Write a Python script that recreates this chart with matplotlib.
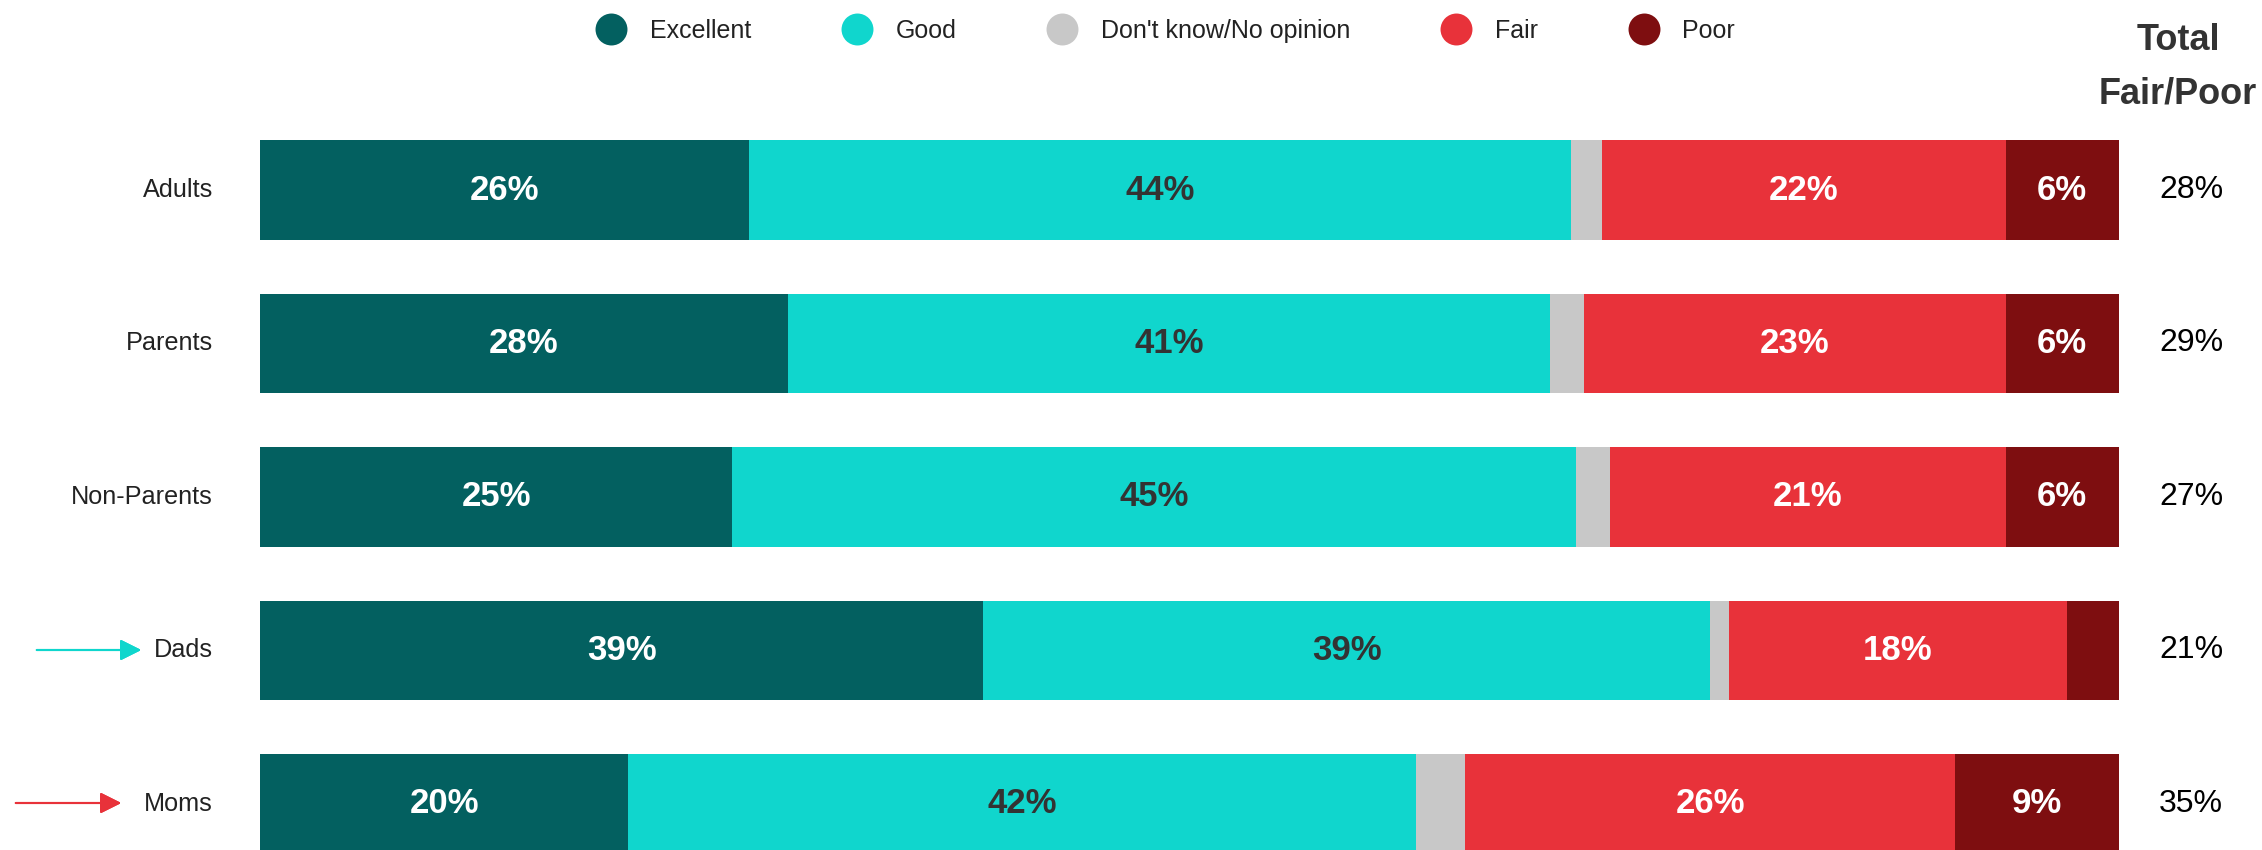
import matplotlib.pyplot as plt
from matplotlib.lines import Line2D

groups = ["Adults", "Parents", "Non-Parents", "Dads", "Moms"]
excellent = [26.3, 28.4, 25.4, 38.9, 19.8]
good = [44.2, 41.0, 45.4, 39.1, 42.4]
dont_know = [1.7, 1.8, 1.8, 1.0, 2.6]
fair = [21.7, 22.7, 21.3, 18.2, 26.4]
poor = [6.1, 6.1, 6.1, 2.8, 8.8]
total_fair_poor = [28, 29, 27, 21, 35]

series = [
    ("Excellent", excellent, "#036060", "white"),
    ("Good", good, "#10D6CD", "#333333"),
    ("Don't know/No opinion", dont_know, "#C8C8C8", None),
    ("Fair", fair, "#E8323A", "white"),
    ("Poor", poor, "#7E0E10", "white"),
]

font = ["Liberation Sans", "DejaVu Sans"]

W, H = 2262, 850
fig = plt.figure(figsize=(W / 100, H / 100), dpi=100)
ax = fig.add_axes([260 / W, 0, (2119 - 260) / W, 1])

y = list(range(len(groups)))
left = [0.0] * len(groups)
for name, vals, color, tcolor in series:
    ax.barh(y, vals, left=left, height=0.651, color=color, label=name)
    if tcolor is not None:
        for i, v in enumerate(vals):
            if v >= 5:
                ax.text(left[i] + v / 2, i, f"{round(v)}%", ha="center", va="center",
                        color=tcolor, fontsize=25, fontweight="bold", family=font)
    left = [l + v for l, v in zip(left, vals)]

ax.set_xlim(0, 100)
ax.set_ylim(4.300, -1.238)
ax.axis("off")

# row labels, right edge ~47px left of the bars
for i, g in enumerate(groups):
    ax.text(-47 / 1859 * 100, i, g, ha="right", va="center", fontsize=18.2,
            color="#222222", family=font)

# totals column
def fy(px):
    return 1 - px / H

for i, t in enumerate(total_fair_poor):
    fig.text(2191 / W, fy(190 + 153.5 * i), f"{t}%", ha="center", va="center",
             fontsize=23, color="black", family=font)
fig.text(2178 / W, fy(50), "Total", ha="center", va="baseline",
         fontsize=26, fontweight="bold", color="#333333", family=font)
fig.text(2178 / W, fy(103), "Fair/Poor", ha="center", va="baseline",
         fontsize=26, fontweight="bold", color="#333333", family=font)

# arrows pointing at Dads / Moms
fig.add_artist(plt.annotate("", xy=(144 / W, fy(650)), xytext=(34 / W, fy(650)),
                            xycoords="figure fraction",
                            arrowprops=dict(arrowstyle="-|>", color="#10D6CD", lw=1.5,
                                            mutation_scale=32)))
fig.add_artist(plt.annotate("", xy=(124 / W, fy(803)), xytext=(13 / W, fy(803)),
                            xycoords="figure fraction",
                            arrowprops=dict(arrowstyle="-|>", color="#E8323A", lw=1.5,
                                            mutation_scale=32)))

handles = [Line2D([], [], marker="o", ls="", markersize=23, color=c, markeredgewidth=0)
           for _, _, c, _ in series]
fig.legend(handles, [s[0] for s in series], loc="center", bbox_to_anchor=(0.515, fy(31)),
           ncol=5, frameon=False, handlelength=1.28, handletextpad=0.9, columnspacing=3.6,
           prop={"family": font, "size": 18}, labelcolor="#222222")

fig.savefig("out.png", dpi=100)
